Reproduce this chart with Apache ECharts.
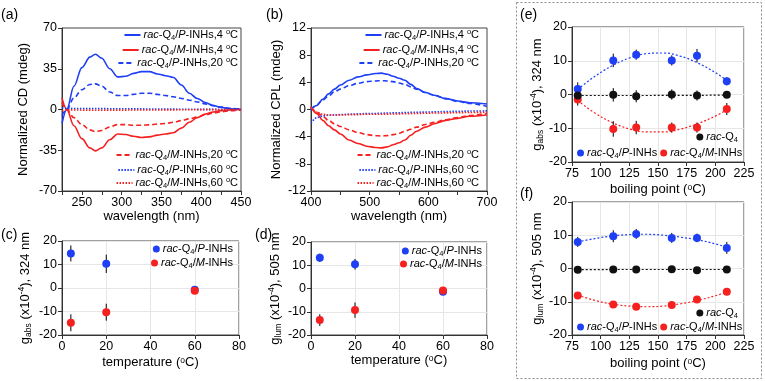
<!DOCTYPE html>
<html lang="en">
<head>
<meta charset="utf-8">
<title>CD / CPL of rac-Q4 INHs</title>
<script src="https://cdn.jsdelivr.net/npm/echarts@6/dist/echarts.min.js"></script>
<style>
  html, body { margin: 0; padding: 0; background: #fff; }
  #chart { width: 765px; height: 381px; }
</style>
</head>
<body>
<div id="chart"></div>
<script>
  // (a) CD spectra
  var wlCD = [225, 231, 240, 250, 260, 267, 275, 285, 295, 305, 315, 325, 335, 345, 355, 365, 375, 385, 395, 405, 415, 425, 437, 450];
  var cdP4 = [-12, 0, 20, 36, 45, 47.5, 44, 35, 28, 28.5, 31, 32.5, 32.5, 30.5, 29, 27.5, 21, 14, 9.5, 6, 3.5, 1.8, 0.6, 0];
  var cdM4 = [10, 0, -14, -25, -33, -35.5, -33, -26, -21, -21.5, -23, -24, -23.5, -22, -21, -20, -16, -11, -7, -4, -2.2, -1, -0.3, 0];
  var cdP20 = [-5, 0, 10, 17, 21.5, 22, 20, 15, 12, 12, 13, 14, 14, 13, 12, 11, 9.5, 8, 6.5, 4.8, 3.3, 2, 1, 0.5];
  var cdM20 = [6, 0, -7, -13, -17.5, -19, -18, -15, -13, -13, -13.5, -13.5, -13.2, -12.5, -12, -11, -9.5, -8, -6.5, -4.7, -3.2, -2, -1, -0.5];
  var cdP60 = [1.5, 1.0, 0.9, 0.85, 0.8, 0.8, 0.75, 0.7, 0.65, 0.6, 0.55, 0.5, 0.45, 0.4, 0.35, 0.3, 0.25, 0.2, 0.15, 0.1, 0.08, 0.05, 0.02, 0];
  var cdM60 = [-1.0, -0.3, -0.4, -0.5, -0.55, -0.6, -0.6, -0.55, -0.5, -0.5, -0.45, -0.45, -0.4, -0.4, -0.35, -0.3, -0.25, -0.2, -0.15, -0.1, -0.08, -0.05, -0.02, 0];

  // (b) CPL spectra
  var wlCPL = [400, 410, 420, 430, 440, 450, 465, 480, 495, 510, 520, 530, 540, 550, 560, 570, 580, 595, 610, 630, 650, 670, 700];
  var cplP4 = [-0.1, 0.6, 1.5, 2.3, 3.0, 3.6, 4.3, 4.8, 5.1, 5.3, 5.35, 5.2, 4.9, 4.6, 4.3, 3.7, 3.1, 2.5, 2.1, 1.6, 1.25, 1.0, 0.8];
  var cplM4 = [0.4, -0.6, -1.6, -2.4, -3.0, -3.6, -4.5, -5.0, -5.4, -5.6, -5.65, -5.5, -5.2, -4.9, -4.5, -3.8, -3.2, -2.6, -2.1, -1.6, -1.3, -1.0, -0.8];
  var cplP20 = [0, 0.7, 1.4, 2.0, 2.6, 3.0, 3.5, 3.85, 4.1, 4.2, 4.25, 4.2, 4.1, 3.9, 3.7, 3.35, 3.0, 2.5, 2.1, 1.6, 1.2, 0.9, 0.45];
  var cplM20 = [0.3, -0.4, -1.0, -1.6, -2.1, -2.5, -3.0, -3.4, -3.7, -3.85, -3.9, -3.85, -3.7, -3.5, -3.2, -2.9, -2.6, -2.2, -1.9, -1.5, -1.2, -0.9, -0.6];
  var cplP60 = [-2.0, -1.2, -0.95, -0.85, -0.8, -0.75, -0.7, -0.65, -0.6, -0.58, -0.55, -0.52, -0.5, -0.48, -0.45, -0.43, -0.4, -0.38, -0.35, -0.3, -0.27, -0.23, -0.2];
  var cplM60 = [0.3, -0.4, -0.7, -0.8, -0.8, -0.8, -0.75, -0.75, -0.7, -0.7, -0.7, -0.68, -0.66, -0.64, -0.62, -0.6, -0.58, -0.55, -0.52, -0.5, -0.47, -0.44, -0.4];

  // (c) g_abs vs temperature, (d) g_lum vs temperature
  var temps = [4, 20, 60];
  var gabsP = [14.7, 10.3, -0.7],   gabsPErr = [3.4, 3.9, 1.5];
  var gabsM = [-14.8, -10.3, -1.2], gabsMErr = [3.6, 3.6, 1.2];
  var glumP = [13.2, 10.4, -1.4],   glumPErr = [1.8, 2.3, 1.0];
  var glumM = [-13.6, -9.3, -0.9],  glumMErr = [2.5, 3.3, 1.0];

  // (e) g_abs vs boiling point, (f) g_lum vs boiling point
  var bp = [80, 111, 131, 162, 184, 210];
  var eP = [1.6, 10.1, 11.8, 10.1, 11.5, 3.9],          ePErr = [2, 2, 1.5, 1.5, 2, 1.2];
  var eM = [-1.5, -10.2, -9.8, -9.8, -9.8, -4.3],       eMErr = [1.8, 2.3, 2, 1.5, 1.5, 1.8];
  var eRac = [-0.3, -0.1, -0.5, 0.0, -0.3, -0.1],       eRacErr = [2, 2, 1.8, 1.5, 1.5, 1];
  var fP = [8.0, 9.7, 10.4, 9.2, 9.2, 6.2],             fPErr = [1.5, 1.8, 1.5, 1.5, 1.3, 1.8];
  var fM = [-8.1, -10.8, -11.5, -11.0, -9.3, -7.0],     fMErr = [0.7, 0.6, 0.7, 0.7, 0.7, 1.0];
  var fRac = [-0.4, -0.3, -0.3, -0.2, -0.5, -0.3],      fRacErr = [0.6, 0.5, 0.5, 0.8, 0.8, 0.5];

  // dotted trend lines
  var fitX = [80, 95, 110, 125, 140, 155, 170, 185, 200, 211];
  var eFitP = [1.5, 5.4, 8.5, 10.8, 12.1, 12.3, 11.3, 9.3, 6.5, 3.9];
  var eFitM = [-1.8, -5.5, -8.3, -10.2, -11.1, -11.1, -10.2, -8.6, -6.4, -4.4];
  var eFitRac = [-0.3, -0.3, -0.3, -0.3, -0.3, -0.25, -0.25, -0.25, -0.2, -0.2];
  var fFitP = [8.0, 9.0, 9.8, 10.2, 10.3, 10.0, 9.4, 8.6, 7.4, 6.3];
  var fFitM = [-8.0, -9.6, -10.7, -11.3, -11.5, -11.3, -10.6, -9.6, -8.2, -7.0];
  var fFitRac = [-0.35, -0.35, -0.3, -0.3, -0.3, -0.3, -0.3, -0.3, -0.3, -0.3];

  var FONT = '"Liberation Sans", Arial, sans-serif';
  var BLUE = '#1f3ff5', RED = '#f52020', BLACK = '#111';

  var RICH_AX = {
    sub: {fontSize: 8.5, verticalAlign: 'bottom', lineHeight: 9, fontFamily: FONT, color: '#000'},
    sup: {fontSize: 8.5, verticalAlign: 'top', lineHeight: 9, fontFamily: FONT, color: '#000'}
  };
  var RICH_LEG = {
    i: {fontStyle: 'italic', fontSize: 11, fontFamily: FONT, color: '#000'},
    sub: {fontSize: 7.5, verticalAlign: 'bottom', lineHeight: 8, fontFamily: FONT, color: '#000'},
    sup: {fontSize: 7.5, verticalAlign: 'top', lineHeight: 8, fontFamily: FONT, color: '#000'}
  };
  var LEG_TEXT = {
    P4: '{i|rac}-Q{sub|4}/{i|P}-INHs,4 {sup|o}C',
    M4: '{i|rac}-Q{sub|4}/{i|M}-INHs,4 {sup|o}C',
    P20: '{i|rac}-Q{sub|4}/{i|P}-INHs,20 {sup|o}C',
    M20: '{i|rac}-Q{sub|4}/{i|M}-INHs,20 {sup|o}C',
    P60: '{i|rac}-Q{sub|4}/{i|P}-INHs,60 {sup|o}C',
    M60: '{i|rac}-Q{sub|4}/{i|M}-INHs,60 {sup|o}C',
    P: '{i|rac}-Q{sub|4}/{i|P}-INHs',
    M: '{i|rac}-Q{sub|4}/{i|M}-INHs',
    R: '{i|rac}-Q{sub|4}'
  };

  function pairs(xs, ys) {
    return xs.map(function (x, i) { return [x, ys[i]]; });
  }

  function xAx(g, min, max, step, name, gap, fmt, split) {
    return {
      type: 'value', gridIndex: g, min: min, max: max, interval: step,
      name: name, nameLocation: 'middle', nameGap: gap,
      nameTextStyle: {fontSize: 13, color: '#000', fontFamily: FONT, rich: RICH_AX},
      axisLine: {onZero: false, lineStyle: {color: '#333'}},
      axisTick: {show: true, length: 4, lineStyle: {color: '#333'}},
      axisLabel: {fontSize: 12.5, color: '#000', fontFamily: FONT, margin: 5, formatter: fmt},
      splitLine: {show: !!split, lineStyle: {color: '#e6e6e6'}}
    };
  }

  function yAx(g, min, max, step, name, gap, split) {
    return {
      type: 'value', gridIndex: g, min: min, max: max, interval: step,
      name: name, nameLocation: 'middle', nameGap: gap,
      nameTextStyle: {fontSize: 13, color: '#000', fontFamily: FONT, lineHeight: 16, rich: RICH_AX},
      axisLine: {show: true, onZero: false, lineStyle: {color: '#333'}},
      axisTick: {show: true, length: 4, lineStyle: {color: '#333'}},
      axisLabel: {fontSize: 12.5, color: '#000', fontFamily: FONT, margin: 5},
      splitLine: {show: !!split, lineStyle: {color: '#e6e6e6'}}
    };
  }

  function spec(name, g, xs, ys, color, type) {
    return {
      type: 'line', name: name, xAxisIndex: g, yAxisIndex: g,
      data: pairs(xs, ys), symbol: 'none', smooth: 0.35, smoothMonotone: 'x',
      lineStyle: {color: color, width: 1.6, type: type},
      itemStyle: {color: color}, z: 2
    };
  }

  function dots(name, g, xs, ys, color) {
    return {
      type: 'scatter', name: name, xAxisIndex: g, yAxisIndex: g,
      data: pairs(xs, ys), symbol: 'circle', symbolSize: 8,
      itemStyle: {color: color, opacity: 1}, z: 4
    };
  }

  function errs(g, xs, ys, es) {
    return {
      type: 'custom', xAxisIndex: g, yAxisIndex: g, silent: true, z: 3,
      encode: {x: 0, y: [1, 2]},
      data: xs.map(function (x, i) { return [x, ys[i] - es[i], ys[i] + es[i]]; }),
      renderItem: function (params, api) {
        var a = api.coord([api.value(0), api.value(1)]);
        var b = api.coord([api.value(0), api.value(2)]);
        return {
          type: 'line',
          shape: {x1: a[0], y1: a[1], x2: b[0], y2: b[1]},
          style: {stroke: '#000', lineWidth: 1}
        };
      }
    };
  }

  function fit(g, ys, color) {
    return {
      type: 'line', xAxisIndex: g, yAxisIndex: g, data: pairs(fitX, ys),
      symbol: 'none', smooth: 0.4, silent: true,
      lineStyle: {color: color, width: 1.2, type: [2, 2]}, z: 2
    };
  }

  var legText = {fontSize: 11, color: '#000', fontFamily: FONT, lineHeight: 14, padding: [0, 0, 0, -2], rich: RICH_LEG};

  // single legend entry, right aligned; line keys hide the default marker
  function leg(name, right, cy, line) {
    var o = {
      data: [name], right: right, top: cy - 7, padding: 0, selectedMode: false,
      itemWidth: line ? 16 : 7, itemHeight: line ? 14 : 7, itemGap: 0,
      textStyle: legText,
      formatter: function (n) { return LEG_TEXT[n]; }
    };
    o.itemStyle = line ? {opacity: 0} : {opacity: 1};
    return o;
  }
  function legRow(left, cy) {
    return {
      data: ['P', 'M'], left: left, top: cy - 7, padding: 0, selectedMode: false,
      itemWidth: 7, itemHeight: 7, itemGap: 3, itemStyle: {opacity: 1},
      textStyle: legText,
      formatter: function (n) { return LEG_TEXT[n]; }
    };
  }

  var fmt50 = function (v) { return v % 50 === 0 ? v : ''; };
  var fmt100 = function (v) { return v % 100 === 0 ? v : ''; };
  var G_ABS = 'g{sub|abs} (x10{sup|-4}), 324 nm';
  var G_LUM = 'g{sub|lum} (x10{sup|-4}), 505 nm';

  var gridBox = {show: true, borderColor: '#444', borderWidth: 1, backgroundColor: 'transparent'};
  function grid(l, t, w, h) {
    return Object.assign({left: l, top: t, width: w, height: h}, gridBox);
  }

  var myChart = echarts.init(document.getElementById('chart'), null, {renderer: 'canvas'});

  myChart.setOption({
    animation: false,
    textStyle: {fontFamily: FONT},
    grid: [
      grid(62, 28, 179, 163),
      grid(311, 28, 176, 163),
      grid(62, 241, 177, 94),
      grid(311, 242, 176, 93),
      grid(572, 27, 172, 135),
      grid(572, 202, 172, 133)
    ],
    xAxis: [
      xAx(0, 225, 450, 25, 'wavelength (nm)', 15, fmt50, false),
      xAx(1, 400, 700, 50, 'wavelength (nm)', 15, fmt100, false),
      xAx(2, 0, 80, 20, 'temperature ({sup|o}C)', 21, null, true),
      xAx(3, 0, 80, 20, 'temperature ({sup|o}C)', 19, null, true),
      xAx(4, 75, 225, 25, 'boiling point ({sup|o}C)', 21, null, true),
      xAx(5, 75, 225, 25, 'boiling point ({sup|o}C)', 22, null, true)
    ],
    yAxis: [
      yAx(0, -70, 70, 35, 'Normalized CD (mdeg)', 31, false),
      yAx(1, -12, 12, 4, 'Normalized CPL (mdeg)', 27, false),
      yAx(2, -20, 20, 10, G_ABS, 29, true),
      yAx(3, -20, 20, 10, G_LUM, 28, true),
      yAx(4, -20, 20, 10, G_ABS, 27, true),
      yAx(5, -20, 20, 10, G_LUM, 27, true)
    ],
    legend: [
      leg('P4', 527, 35, true), leg('M4', 527, 50, true), leg('P20', 527, 63, true),
      leg('M20', 527, 155, true), leg('P60', 527, 170, true), leg('M60', 527, 183, true),
      leg('P4', 286, 35, true), leg('M4', 286, 50, true), leg('P20', 286, 63, true),
      leg('M20', 286, 155, true), leg('P60', 286, 170, true), leg('M60', 286, 183, true),
      leg('P', 532, 249, false), leg('M', 532, 263, false),
      leg('P', 283, 251, false), leg('M', 283, 264, false),
      leg('R', 27, 137, false), legRow(577, 153),
      leg('R', 27, 313, false), legRow(577, 327)
    ],
    series: [
      spec('P4', 0, wlCD, cdP4, BLUE, 'solid'),
      spec('M4', 0, wlCD, cdM4, RED, 'solid'),
      spec('P20', 0, wlCD, cdP20, BLUE, [5, 3]),
      spec('M20', 0, wlCD, cdM20, RED, [5, 3]),
      spec('P60', 0, wlCD, cdP60, BLUE, [1.5, 1.5]),
      spec('M60', 0, wlCD, cdM60, RED, [1.5, 1.5]),

      spec('P4', 1, wlCPL, cplP4, BLUE, 'solid'),
      spec('M4', 1, wlCPL, cplM4, RED, 'solid'),
      spec('P20', 1, wlCPL, cplP20, BLUE, [5, 3]),
      spec('M20', 1, wlCPL, cplM20, RED, [5, 3]),
      spec('P60', 1, wlCPL, cplP60, BLUE, [1.5, 1.5]),
      spec('M60', 1, wlCPL, cplM60, RED, [1.5, 1.5]),

      errs(2, temps, gabsP, gabsPErr), errs(2, temps, gabsM, gabsMErr),
      dots('P', 2, temps, gabsP, BLUE), dots('M', 2, temps, gabsM, RED),

      errs(3, temps, glumP, glumPErr), errs(3, temps, glumM, glumMErr),
      dots('P', 3, temps, glumP, BLUE), dots('M', 3, temps, glumM, RED),

      fit(4, eFitP, BLUE), fit(4, eFitM, RED), fit(4, eFitRac, BLACK),
      errs(4, bp, eP, ePErr), errs(4, bp, eM, eMErr), errs(4, bp, eRac, eRacErr),
      dots('P', 4, bp, eP, BLUE), dots('M', 4, bp, eM, RED), dots('R', 4, bp, eRac, BLACK),

      fit(5, fFitP, BLUE), fit(5, fFitM, RED), fit(5, fFitRac, BLACK),
      errs(5, bp, fP, fPErr), errs(5, bp, fM, fMErr), errs(5, bp, fRac, fRacErr),
      dots('P', 5, bp, fP, BLUE), dots('M', 5, bp, fM, RED), dots('R', 5, bp, fRac, BLACK)
    ],
    graphic: [
      {type: 'rect', silent: true, shape: {x: 516.5, y: 2.5, width: 245, height: 376},
       style: {fill: 'none', stroke: '#8a8a8a', lineWidth: 1, lineDash: [2, 2]}},
      {type: 'text', left: 1, top: 8, style: {text: '(a)', font: '14px ' + FONT, fill: '#000'}},
      {type: 'text', left: 266, top: 8, style: {text: '(b)', font: '14px ' + FONT, fill: '#000'}},
      {type: 'text', left: 1, top: 228, style: {text: '(c)', font: '14px ' + FONT, fill: '#000'}},
      {type: 'text', left: 255, top: 228, style: {text: '(d)', font: '14px ' + FONT, fill: '#000'}},
      {type: 'text', left: 520, top: 8, style: {text: '(e)', font: '14px ' + FONT, fill: '#000'}},
      {type: 'text', left: 520, top: 187, style: {text: '(f)', font: '14px ' + FONT, fill: '#000'}}
    ]
  });
</script>
</body>
</html>
